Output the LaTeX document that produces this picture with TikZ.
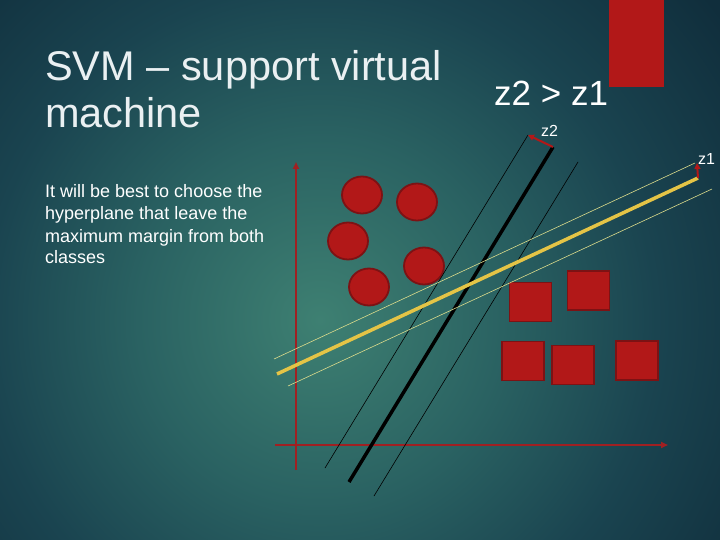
\documentclass[tikz,border=0pt]{standalone}
\usepackage{fontspec}
\setmainfont{Liberation Sans}
\usetikzlibrary{arrows.meta,shapes.geometric}
\definecolor{bgin}{RGB}{62,128,114}
\definecolor{bgmid}{RGB}{42,98,98}
\definecolor{bgout}{RGB}{26,68,80}
\definecolor{bgedge}{RGB}{16,46,60}
\definecolor{svmred}{RGB}{178,24,24}
\definecolor{svmdark}{RGB}{125,18,20}
\definecolor{axisred}{RGB}{160,32,34}
\definecolor{hyper}{RGB}{228,196,70}
\definecolor{margin}{RGB}{220,220,140}
\definecolor{titlec}{RGB}{234,240,242}
\pgfdeclareradialshading{bgshade}{\pgfpoint{0bp}{0bp}}{color(0bp)=(bgin); color(6.5bp)=(bgmid); color(12bp)=(bgout); color(18bp)=(bgedge); color(50bp)=(bgedge)}
\begin{document}
\begin{tikzpicture}[x=1pt,y=-1pt,
  dot/.style={ellipse,draw=svmdark,line width=1.8pt,fill=svmred,minimum width=40pt,minimum height=37pt,inner sep=0pt},
  sq/.style={rectangle,draw=svmdark,line width=1.8pt,fill=svmred,minimum width=42pt,minimum height=39pt,inner sep=0pt},
  axis/.style={axisred,line width=2pt,-{Triangle[length=7pt,width=6pt]}},
  thick hyper/.style={line width=3.5pt},
  thin margin/.style={line width=0.6pt},
  zarrow/.style={svmred,line width=2pt,-{Triangle[length=6pt,width=6pt]}},
  txt/.style={anchor=base west,inner sep=0pt,text=white}]
\useasboundingbox (0,0) rectangle (720,540);
\begin{scope}
\clip (0,0) rectangle (720,540);
\shade[shading=bgshade] (-380,-380) rectangle (1020,1020);
\end{scope}
% red block at top
\fill[svmred] (609,0) rectangle (664,87);
% texts
\node[txt,text=titlec,font=\fontsize{41.5}{47}\selectfont] (t1) at (45,81) {SVM – support virtual};
\node[txt,text=titlec,font=\fontsize{41.5}{47}\selectfont] (t2) at (45,128) {machine};
\node[txt,font=\fontsize{18}{22}\selectfont] (b1) at (45,198) {It will be best to choose the};
\node[txt,font=\fontsize{18}{22}\selectfont] (b2) at (45,220) {hyperplane that leave the};
\node[txt,font=\fontsize{18}{22}\selectfont] (b3) at (45,242) {maximum margin from both};
\node[txt,font=\fontsize{18}{22}\selectfont] (b4) at (45,263) {classes};
\node[txt,font=\fontsize{35}{40}\selectfont] (cmp) at (494,106) {z2 > z1};
\node[txt,font=\fontsize{16}{18}\selectfont] (lz2) at (541,137) {z2};
\node[txt,font=\fontsize{16}{18}\selectfont] (lz1) at (698,165) {z1};
% axes
\coordinate (o) at (296,445);
\coordinate (ybot) at (296,470);
\coordinate (ytop) at (296,162);
\coordinate (xleft) at (275,445);
\coordinate (xright) at (668,445);
\draw[axis] (ybot) -- (ytop);
\draw[axis] (xleft) -- (xright);
% class 1
\node[dot] (c1) at (362,195) {};
\node[dot] (c2) at (417,202) {};
\node[dot] (c3) at (348,241) {};
\node[dot] (c4) at (424,266) {};
\node[dot] (c5) at (369,287) {};
% class 2
\node[sq] (s1) at (530.5,302) {};
\node[sq] (s2) at (588.5,290.5) {};
\node[sq] (s3) at (523,361) {};
\node[sq] (s4) at (573,365) {};
\node[sq] (s5) at (637,360.5) {};
% black hyperplane and margins
\coordinate (bk1) at (349,482);
\coordinate (bk2) at (553,147);
\coordinate (bl1) at (325,468);
\coordinate (bl2) at (528,135);
\coordinate (br1) at (374,496);
\coordinate (br2) at (578,162);
\draw[black,thin margin] (bl1) -- (bl2);
\draw[black,thin margin] (br1) -- (br2);
\draw[black,thick hyper] (bk1) -- (bk2);
% yellow hyperplane and margins
\coordinate (yk1) at (277,374);
\coordinate (yk2) at (698,178);
\coordinate (yu1) at (274,359);
\coordinate (yu2) at (695,163);
\coordinate (yl1) at (288,386);
\coordinate (yl2) at (712,189);
\draw[margin,thin margin] (yu1) -- (yu2);
\draw[margin,thin margin] (yl1) -- (yl2);
\draw[hyper,thick hyper] (yk1) -- (yk2);
% distance arrows
\draw[zarrow] (bk2) -- (bl2);
\coordinate (z1top) at (697,163);
\draw[zarrow] (yk2) -- (z1top);
\end{tikzpicture}
\end{document}
